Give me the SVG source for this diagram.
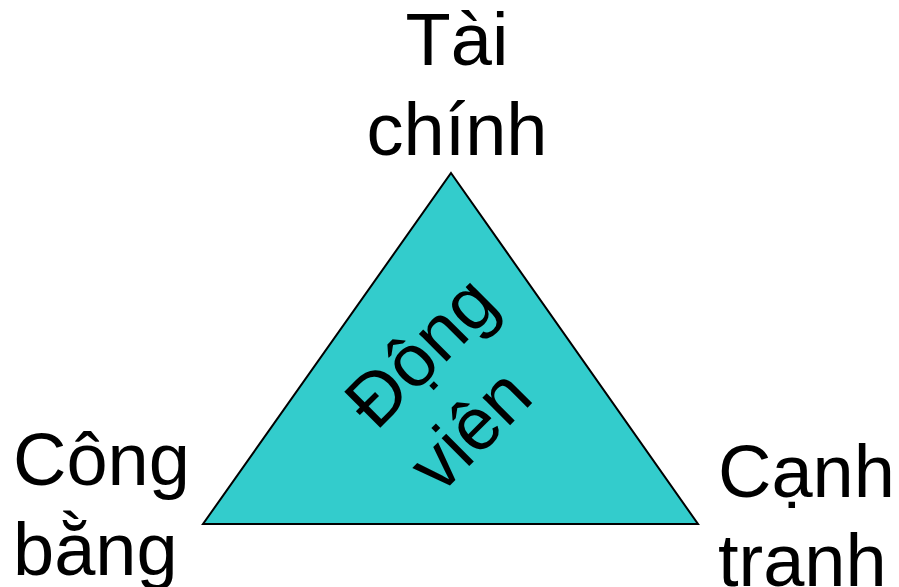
<svg xmlns="http://www.w3.org/2000/svg" width="899" height="587" viewBox="0 0 899 587">
  <style>
    .lbl { font-family: "Liberation Sans", Arial, sans-serif; font-size: 74px; fill: #000000; }
    .mid { text-anchor: middle; }
    .tri { fill: #33CCCC; stroke: #000000; stroke-width: 2; stroke-linejoin: miter; }
  </style>
  <rect x="0" y="0" width="899" height="587" fill="#FFFFFF"/>

  <g id="connectors"></g>

  <!-- central triangle with rotated caption -->
  <g id="node-center">
    <polygon class="tri" points="451,173 698,524 203,524"/>
    <g transform="translate(376,432) rotate(-45)">
      <text class="lbl" x="0" y="0">Động</text>
      <text class="lbl" x="0" y="90">viên</text>
    </g>
  </g>

  <g id="node-top">
    <text class="lbl mid" x="457" y="65">Tài</text>
    <text class="lbl mid" x="457" y="155">chính</text>
  </g>

  <g id="node-left">
    <text class="lbl" x="13" y="485">Công</text>
    <text class="lbl" x="13" y="575">bằng</text>
  </g>

  <g id="node-right">
    <text class="lbl" x="718" y="497">Cạnh</text>
    <text class="lbl" x="718" y="586">tranh</text>
  </g>
</svg>
